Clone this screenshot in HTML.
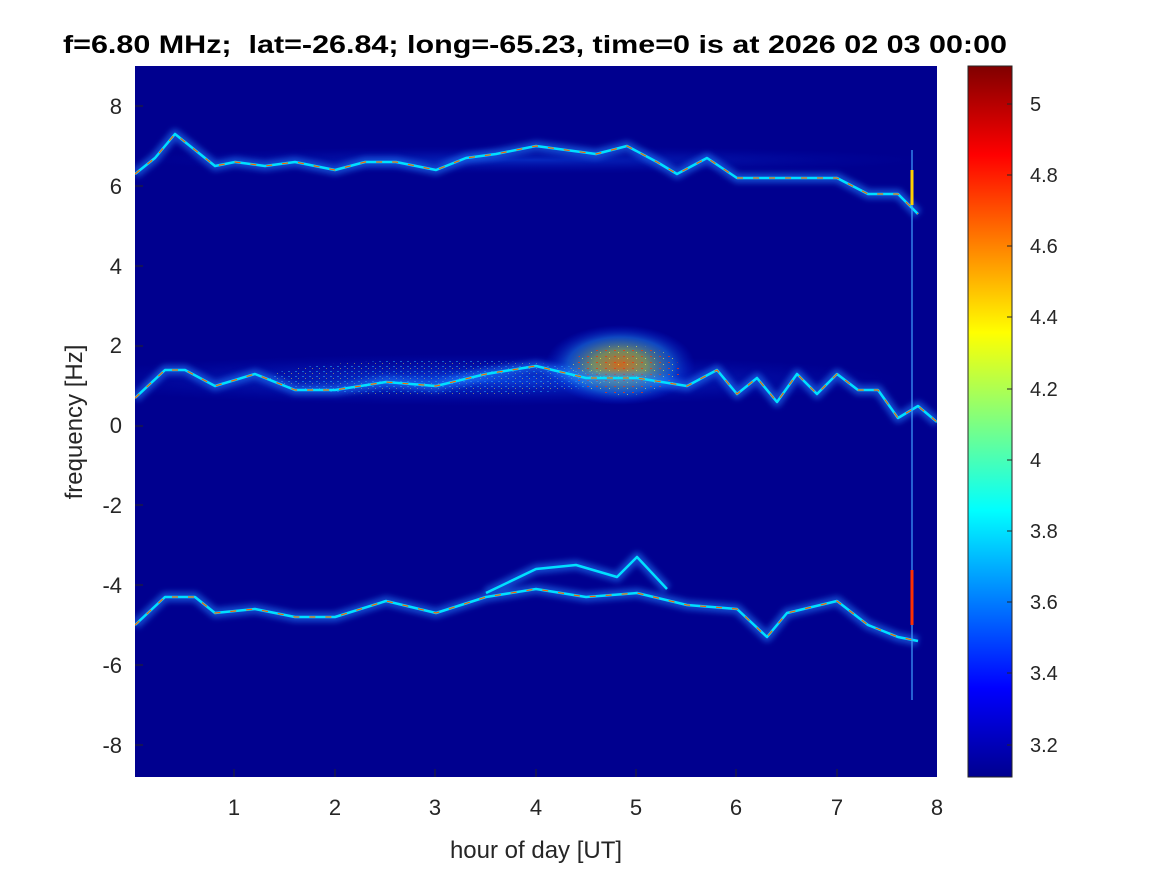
<!DOCTYPE html>
<html><head><meta charset="utf-8"><style>
body{margin:0;background:#fff;}
svg text{font-family:"Liberation Sans",Arial,sans-serif;}
</style></head><body>
<svg width="1167" height="875" viewBox="0 0 1167 875" xmlns="http://www.w3.org/2000/svg">
<defs>
<clipPath id="pc"><rect x="135" y="66" width="802" height="711"/></clipPath>
<linearGradient id="jet" x1="0" y1="1" x2="0" y2="0">
<stop offset="0" stop-color="#00008f"/>
<stop offset="0.125" stop-color="#0000ff"/>
<stop offset="0.375" stop-color="#00ffff"/>
<stop offset="0.625" stop-color="#ffff00"/>
<stop offset="0.875" stop-color="#ff0000"/>
<stop offset="1" stop-color="#800000"/>
</linearGradient>
<radialGradient id="blob" cx="0.5" cy="0.5" r="0.5">
<stop offset="0" stop-color="#ff8000" stop-opacity="0.8"/>
<stop offset="0.35" stop-color="#c0e040" stop-opacity="0.6"/>
<stop offset="0.7" stop-color="#20a0ff" stop-opacity="0.45"/>
<stop offset="1" stop-color="#0030ff" stop-opacity="0"/>
</radialGradient>
<radialGradient id="haze" cx="0.5" cy="0.5" r="0.5">
<stop offset="0" stop-color="#1060ff" stop-opacity="0.7"/>
<stop offset="1" stop-color="#0010c0" stop-opacity="0"/>
</radialGradient>
<pattern id="speck" width="7" height="5" patternUnits="userSpaceOnUse">
<rect x="1" y="1" width="2" height="1" fill="#30c0ff" opacity="0.5"/>
<rect x="4" y="3" width="1" height="1" fill="#ffe040" opacity="0.5"/>
</pattern>
<pattern id="speck2" width="9" height="6" patternUnits="userSpaceOnUse">
<rect x="2" y="2" width="2" height="1" fill="#ff3000" opacity="0.7"/>
<rect x="6" y="4" width="1" height="1" fill="#ffff40" opacity="0.6"/>
</pattern>
<filter id="glow"><feGaussianBlur stdDeviation="3"/></filter>
</defs>
<text x="535" y="53" font-size="25" font-weight="bold" text-anchor="middle" textLength="944" lengthAdjust="spacingAndGlyphs" xml:space="preserve">f=6.80 MHz;  lat=-26.84; long=-65.23, time=0 is at 2026 02 03 00:00</text>
<rect x="135" y="66" width="802" height="711" fill="#00008f"/>
<g clip-path="url(#pc)">
<ellipse cx="480" cy="380" rx="420" ry="26" fill="url(#haze)"/>
<ellipse cx="440" cy="378" rx="170" ry="18" fill="url(#speck)"/>
<ellipse cx="620" cy="365" rx="75" ry="40" fill="url(#blob)"/>
<ellipse cx="625" cy="370" rx="55" ry="25" fill="url(#speck2)"/>
<ellipse cx="530" cy="160" rx="400" ry="14" fill="url(#haze)" opacity="0.6"/>
<g fill="none" stroke-linejoin="round">
<g stroke="#2080ff" stroke-width="10" opacity="0.55" filter="url(#glow)">
<polyline id="u" points="135,174 155,158 175,134 195,150 215,166 235,162 265,166 295,162 335,170 365,162 396,162 436,170 466,158 496,154 536,146 566,150 596,154 627,146 657,162 677,174 707,158 737,178 767,178 797,178 837,178 868,194 898,194 918,214"/>
<polyline id="m" points="135,398 165,370 185,370 215,386 255,374 295,390 335,390 386,382 436,386 486,374 536,366 586,378 637,378 687,386 717,370 737,394 757,378 777,402 797,374 817,394 837,374 858,390 878,390 898,418 918,406 937,422"/>
<polyline id="l" points="135,625 165,597 195,597 215,613 255,609 295,617 335,617 386,601 436,613 486,597 536,589 586,597 637,593 687,605 737,609 767,637 787,613 837,601 868,625 898,637 918,641"/>
<polyline id="l2" points="486,593 536,569 576,565 617,577 637,557 667,589"/>
</g>
<g stroke="#00e0ff" stroke-width="2.5">
<use href="#u"/><use href="#m"/><use href="#l"/><use href="#l2"/>
</g>
<g stroke="#ff6000" stroke-width="1.2" stroke-dasharray="6 10">
<use href="#u"/><use href="#m"/><use href="#l"/>
</g>
</g>
<line x1="912" y1="150" x2="912" y2="700" stroke="#40a0ff" stroke-width="2" opacity="0.6"/>
<line x1="912" y1="570" x2="912" y2="625" stroke="#ff3000" stroke-width="3"/>
<line x1="912" y1="170" x2="912" y2="205" stroke="#ffd000" stroke-width="3"/>
</g>
<g stroke="#262626" stroke-width="1">
<path d="M234,777v-8M335,777v-8M435,777v-8M536,777v-8M636,777v-8M736,777v-8M837,777v-8"/>
<path d="M135,106h8M135,186h8M135,266h8M135,346h8M135,426h8M135,505h8M135,585h8M135,665h8M135,745h8"/>
</g>
<g font-size="22" fill="#262626" text-anchor="middle">
<text x="234" y="815">1</text><text x="335" y="815">2</text><text x="435" y="815">3</text><text x="536" y="815">4</text><text x="636" y="815">5</text><text x="736" y="815">6</text><text x="837" y="815">7</text><text x="937" y="815">8</text>
</g>
<g font-size="22" fill="#262626" text-anchor="end">
<text x="122" y="114">8</text><text x="122" y="194">6</text><text x="122" y="274">4</text><text x="122" y="353">2</text><text x="122" y="433">0</text><text x="122" y="513">-2</text><text x="122" y="593">-4</text><text x="122" y="673">-6</text><text x="122" y="753">-8</text>
</g>
<text x="536" y="858" font-size="24" fill="#262626" text-anchor="middle">hour of day [UT]</text>
<text transform="translate(82,422) rotate(-90)" font-size="24" fill="#262626" text-anchor="middle">frequency [Hz]</text>
<rect x="968" y="66" width="44" height="711" fill="url(#jet)" stroke="#262626" stroke-width="1"/>
<g stroke="#262626"><path d="M1012,104h-5M1012,175h-5M1012,246h-5M1012,317h-5M1012,389h-5M1012,460h-5M1012,531h-5M1012,602h-5M1012,673h-5M1012,745h-5"/></g>
<g font-size="20" fill="#262626">
<text x="1030" y="111">5</text><text x="1030" y="182">4.8</text><text x="1030" y="253">4.6</text><text x="1030" y="324">4.4</text><text x="1030" y="396">4.2</text><text x="1030" y="467">4</text><text x="1030" y="538">3.8</text><text x="1030" y="609">3.6</text><text x="1030" y="680">3.4</text><text x="1030" y="752">3.2</text>
</g>
</svg>
</body></html>
